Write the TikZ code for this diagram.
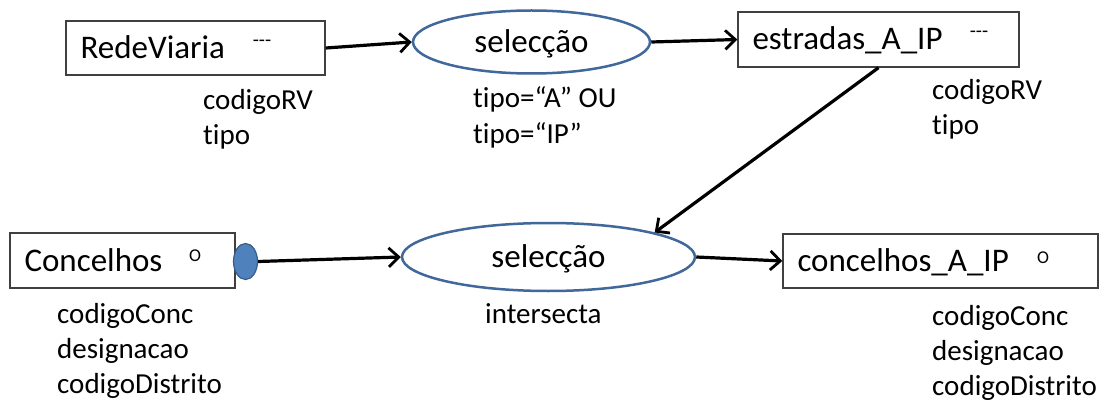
\documentclass[tikz,border=0pt]{standalone}
\usepackage{fontspec}
\setmainfont{Carlito}[Ligatures={TeX,NoCommon}]
\usetikzlibrary{arrows.meta,shapes.geometric,calc}
\definecolor{ellblue}{HTML}{41689A}
\definecolor{dotfill}{HTML}{4F81BD}
\definecolor{dotdraw}{HTML}{385D8A}
\definecolor{boxdraw}{HTML}{404040}
\tikzset{
  relbox/.style={draw=boxdraw, line width=1.4pt, rectangle, inner sep=0pt, inner xsep=14.5pt,
    text height=21pt, text depth=0pt, align=left, font=\fontsize{33}{40}\selectfont},
  opell/.style={draw=ellblue, fill=white, line width=2.5pt, ellipse, inner sep=0pt,
    text height=21pt, text depth=0pt, font=\fontsize{33}{40}\selectfont},
  attr/.style={anchor=base west, inner sep=0pt, font=\fontsize{29}{35}\selectfont},
  dashmark/.style={anchor=base, inner sep=0pt, font=\fontsize{20}{24}\selectfont},
  omark/.style={anchor=base, inner sep=0pt, font=\fontsize{18}{20}\selectfont},
  flow/.style={line width=3.2pt, -{Straight Barb[length=10pt,width=19pt,line width=2.8pt]}},
}
\begin{document}
\begin{tikzpicture}[x=1pt,y=-1pt]
\useasboundingbox (0,0) rectangle (1114,401);
% boxes
\node[relbox, text width=230pt, minimum height=54pt] (rv) at (195.5,48) {RedeViaria};
\node[relbox, text width=252pt, minimum height=55pt] (ea) at (878.5,39.5) {estradas\_A\_IP};
\node[relbox, text width=196pt, minimum height=55pt] (co) at (122.5,260.5) {Concelhos};
\node[relbox, text width=286pt, minimum height=54pt] (ca) at (940.5,261) {concelhos\_A\_IP};
% markers
\node[dashmark] (rvm) at (262,47) {-{}-{}-};
\node[dashmark] (eam) at (979,38) {-{}-{}-};
\node[omark] (com) at (195,261) {O};
\node[omark] (cam) at (1043,263) {O};
% operations
\node[opell, minimum width=237pt, minimum height=63pt] (s1) at (531.5,42) {selecção};
\node[opell, minimum width=293pt, minimum height=68pt] (s2) at (548.5,257) {selecção};
% dot
\node[ellipse, fill=dotfill, draw=dotdraw, line width=1.2pt, minimum width=24pt, minimum height=36pt, inner sep=0pt] (dot) at (245.5,261.5) {};
% connectors
\draw[flow] (rv.east) -- (s1.west);
\draw[flow] (s1.east) -- (ea.west);
\draw[flow] (ea.south) -- (s2.13);
\draw[flow] (dot.east) -- (s2.west);
\draw[flow] (s2.east) -- (ca.west);
% attributes
\node[attr] (rva1) at (203,110) {codigoRV};
\node[attr] (rva2) at (203,145) {tipo};
\node[attr] (s1a1) at (473,108) {tipo=“A” OU};
\node[attr] (s1a2) at (473,144) {tipo=“IP”};
\node[attr] (eaa1) at (932,100) {codigoRV};
\node[attr] (eaa2) at (932,135) {tipo};
\node[attr] (coa1) at (57,323) {codigoConc};
\node[attr] (coa2) at (57,358) {designacao};
\node[attr] (coa3) at (57,393) {codigoDistrito};
\node[attr] (s2a1) at (485,323) {intersecta};
\node[attr] (caa1) at (932,325) {codigoConc};
\node[attr] (caa2) at (932,360) {designacao};
\node[attr] (caa3) at (932,395) {codigoDistrito};
\end{tikzpicture}
\end{document}
